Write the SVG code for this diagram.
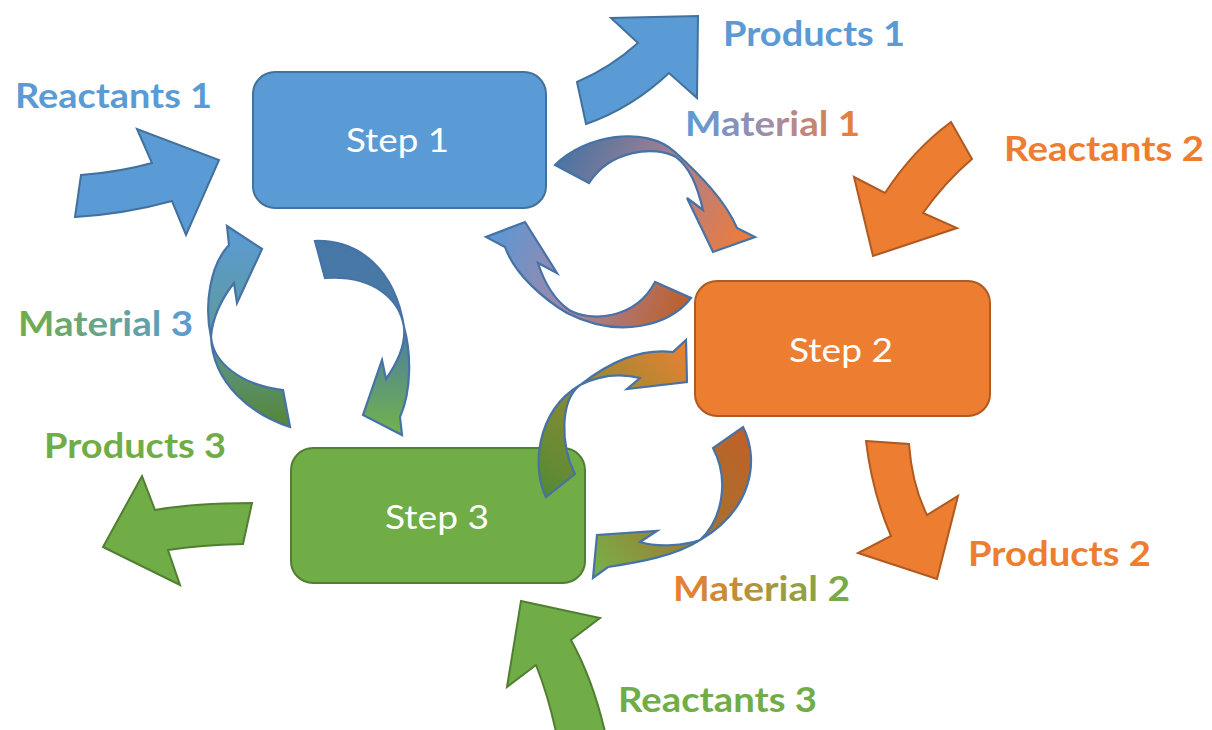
<svg xmlns="http://www.w3.org/2000/svg" width="1212" height="730" viewBox="0 0 1212 730">
  <defs>
    <style>
      .box1 { fill: #5B9BD5; stroke: #41719C; stroke-width: 2; }
      .box2 { fill: #ED7D31; stroke: #AE5A21; stroke-width: 2; }
      .box3 { fill: #70AD47; stroke: #507E32; stroke-width: 2; }
      .arr1 { fill: #5B9BD5; stroke: #41719C; stroke-width: 2; stroke-linejoin: miter; }
      .arr2 { fill: #ED7D31; stroke: #AE5A21; stroke-width: 2; stroke-linejoin: miter; }
      .arr3 { fill: #70AD47; stroke: #507E32; stroke-width: 2; stroke-linejoin: miter; }
      .cyc { stroke: #4672A6; stroke-width: 2.2; stroke-linejoin: miter; }
      .step { font-family: Lato, "Liberation Sans", sans-serif; font-size: 33px; fill: #FFFFFF; text-anchor: start; }
      .lbl { font-family: Lato, "Liberation Sans", sans-serif; font-weight: bold; font-size: 35px; }
      .blue { fill: #5B9BD5; }
      .orange { fill: #ED7D31; }
      .green { fill: #70AD47; }
    </style>
    <!-- cycle arrow fills -->
    <linearGradient id="gM1a" gradientUnits="userSpaceOnUse" x1="560" y1="140" x2="745" y2="245">
      <stop offset="0" stop-color="#4273A3"/>
      <stop offset="0.5" stop-color="#A57F93"/>
      <stop offset="1" stop-color="#EE7C3A"/>
    </linearGradient>
    <linearGradient id="gM1b" gradientUnits="userSpaceOnUse" x1="495" y1="235" x2="690" y2="300">
      <stop offset="0" stop-color="#5E97D3"/>
      <stop offset="0.45" stop-color="#A286A6"/>
      <stop offset="1" stop-color="#BF5F27"/>
    </linearGradient>
    <linearGradient id="gM3a" gradientUnits="userSpaceOnUse" x1="0" y1="230" x2="0" y2="425">
      <stop offset="0" stop-color="#5B9BD5"/>
      <stop offset="0.5" stop-color="#5E9A9E"/>
      <stop offset="1" stop-color="#568638"/>
    </linearGradient>
    <linearGradient id="gM3b" gradientUnits="userSpaceOnUse" x1="0" y1="245" x2="0" y2="430">
      <stop offset="0" stop-color="#4677A7"/>
      <stop offset="0.45" stop-color="#4B7CA3"/>
      <stop offset="1" stop-color="#70B04F"/>
    </linearGradient>
    <linearGradient id="gM2a" gradientUnits="userSpaceOnUse" x1="540" y1="490" x2="690" y2="345">
      <stop offset="0" stop-color="#548A36"/>
      <stop offset="0.45" stop-color="#8C8A32"/>
      <stop offset="1" stop-color="#EB8133"/>
    </linearGradient>
    <linearGradient id="gM2b" gradientUnits="userSpaceOnUse" x1="745" y1="430" x2="600" y2="570">
      <stop offset="0" stop-color="#BF6128"/>
      <stop offset="0.5" stop-color="#A5722E"/>
      <stop offset="1" stop-color="#78AE48"/>
    </linearGradient>
    <!-- label fills -->
    <linearGradient id="tM1" x1="0" y1="0" x2="1" y2="0">
      <stop offset="0" stop-color="#5B9BD5"/>
      <stop offset="0.5" stop-color="#A48CA4"/>
      <stop offset="1" stop-color="#ED7D31"/>
    </linearGradient>
    <linearGradient id="tM3" x1="0" y1="0" x2="1" y2="0">
      <stop offset="0" stop-color="#70AD47"/>
      <stop offset="1" stop-color="#5B9BD5"/>
    </linearGradient>
    <linearGradient id="tM2" x1="0" y1="0" x2="1" y2="0">
      <stop offset="0" stop-color="#ED7D31"/>
      <stop offset="1" stop-color="#70AD47"/>
    </linearGradient>
  </defs>

  <rect width="1212" height="730" fill="#FFFFFF"/>

  <!-- process steps -->
  <g id="step1">
    <rect class="box1" x="253" y="72" width="293" height="136" rx="22"/>
    <text class="step" x="346" y="152" textLength="103" lengthAdjust="spacingAndGlyphs">Step 1</text>
  </g>
  <g id="step2">
    <rect class="box2" x="695" y="281" width="295" height="135" rx="22"/>
    <text class="step" x="789" y="362" textLength="104" lengthAdjust="spacingAndGlyphs">Step 2</text>
  </g>
  <g id="step3">
    <rect class="box3" x="291" y="448" width="294" height="135" rx="22"/>
    <text class="step" x="385" y="529" textLength="104" lengthAdjust="spacingAndGlyphs">Step 3</text>
  </g>

  <!-- connectors: inputs, outputs and material cycles (drawn over the steps) -->
  <g id="connectors">
    <path id="reactants1-arrow" class="arr1" d="M81,175 Q120,172 152,163 L137,129 L219,160 L186,235 L172,201 Q125,214 75,217 Z"/>
    <path id="products1-arrow" class="arr1" d="M577,82 Q610,68 638,43 L611,18 L698,16 L697,98 L669,73 Q632,108 586,124 Z"/>
    <path id="reactants2-arrow" class="arr2" d="M951,122 Q913,150 885,193 L854,177 L873,256 L957,228 L923,213 Q945,182 972,159 Z"/>
    <path id="products2-arrow" class="arr2" d="M866,441 L909,444 Q912,485 927,515 L958,496 L937,579 L858,553 L891,536 Q872,492 866,441 Z"/>
    <path id="products3-arrow" class="arr3" d="M252,503 Q195,503 155,510 L142,476 L103,547 L180,585 L168,550 Q200,545 243,544 Z"/>
    <path id="reactants3-arrow" class="arr3" d="M521,601 L600,618 L571,640 Q593,680 605,732 L556,732 Q548,695 536,665 L507,687 Z"/>

    <path id="material1-forward" class="cyc" fill="url(#gM1a)" d="M555,165 C585,135 645,125 675,152 C700,175 725,200 737,228 L755,237 L713,252 L687,198 L703,210 C697,185 690,168 676,157 C655,145 610,150 589,183 Z"/>
    <path id="material1-return" class="cyc" fill="url(#gM1b)" d="M691,298 C670,325 620,340 567,313 C545,300 515,275 505,247 L486,237 L525,222 L557,273 L538,263 C545,285 555,300 569,310 C590,322 635,320 655,282 Z"/>

    <path id="material3-return" class="cyc" fill="url(#gM3a)" d="M290,427 C253,415 213,385 211,337 C204,305 210,265 229,245 L227,226 L262,249 L237,303 L234,283 C222,298 212,318 211,337 C213,362 240,385 283,390 Z"/>
    <path id="material3-forward" class="cyc" fill="url(#gM3b)" d="M315,241 C360,240 395,270 404,327 C411,352 412,390 400,417 L402,435 L363,415 L382,360 L386,379 C398,362 406,345 404,327 C400,300 375,275 325,278 Z"/>

    <path id="material2-return" class="cyc" fill="url(#gM2a)" d="M546,497 C532,470 535,412 580,385 C610,362 640,348 673,352 L686,340 L687,382 L627,389 L640,378 C620,373 600,375 580,385 C560,400 560,445 575,474 Z"/>
    <path id="material2-forward" class="cyc" fill="url(#gM2b)" d="M743,427 C760,460 752,510 700,540 C675,556 640,562 608,567 L593,578 L597,535 L657,531 L640,542 C660,548 685,545 700,540 C722,520 730,480 713,448 Z"/>
  </g>

  <!-- labels -->
  <g id="labels">
    <text class="lbl blue" x="15" y="108" textLength="197" lengthAdjust="spacingAndGlyphs">Reactants 1</text>
    <text class="lbl blue" x="723" y="46" textLength="182" lengthAdjust="spacingAndGlyphs">Products 1</text>
    <text class="lbl" fill="url(#tM1)" x="685" y="136" textLength="175" lengthAdjust="spacingAndGlyphs">Material 1</text>
    <text class="lbl orange" x="1004" y="161" textLength="200" lengthAdjust="spacingAndGlyphs">Reactants 2</text>
    <text class="lbl" fill="url(#tM3)" x="18" y="336" textLength="175" lengthAdjust="spacingAndGlyphs">Material 3</text>
    <text class="lbl green" x="44" y="458" textLength="182" lengthAdjust="spacingAndGlyphs">Products 3</text>
    <text class="lbl orange" x="968" y="566" textLength="183" lengthAdjust="spacingAndGlyphs">Products 2</text>
    <text class="lbl" fill="url(#tM2)" x="673" y="601" textLength="177" lengthAdjust="spacingAndGlyphs">Material 2</text>
    <text class="lbl green" x="618" y="712" textLength="199" lengthAdjust="spacingAndGlyphs">Reactants 3</text>
  </g>
</svg>
